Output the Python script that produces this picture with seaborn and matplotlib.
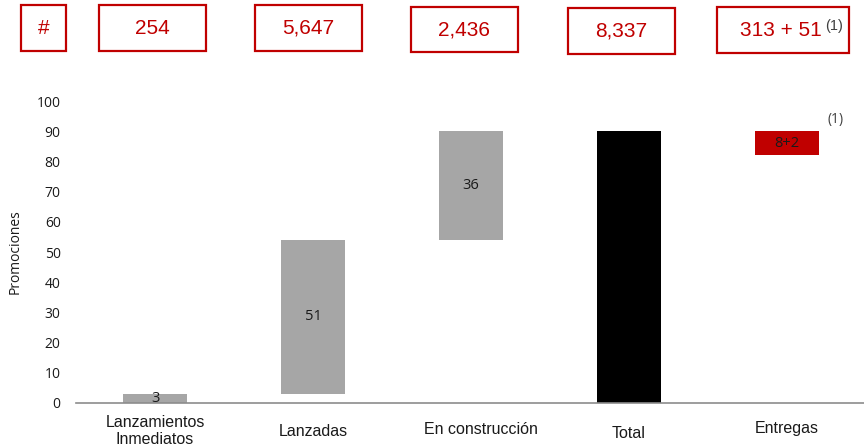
import matplotlib
matplotlib.use("Agg")

import numpy as np
import pandas as pd

import matplotlib.pyplot as plt
from matplotlib.patches import Rectangle
from matplotlib.transforms import blended_transform_factory
import seaborn as sns

##########################################################
# Data
##########################################################

categories = ["Lanzamientos\nInmediatos", "Lanzadas", "En construcción", "Total", "Entregas"]
bar_base = [0, 3, 54, 0, 82]
bar_height = [3, 51, 36, 90, 8]
bar_labels = ["3", "51", "36", "", "8+2"]
bar_colors = ["#A6A6A6", "#A6A6A6", "#A6A6A6", "#000000", "#C00000"]

header_labels = ["#", "254", "5,647", "2,436", "8,337", "313 + 51"]

y_ticks = [0, 10, 20, 30, 40, 50, 60, 70, 80, 90, 100]

df = pd.DataFrame({
    "categoria": categories,
    "base": bar_base,
    "valor": bar_height,
})

##########################################################
# Figure
##########################################################

sns.set_style("white")
plt.rcParams["font.family"] = ["Open Sans", "DejaVu Sans"]

fig = plt.figure(figsize=(8.64, 4.45), dpi=100)
ax = fig.add_axes([76 / 864, 1 - 403 / 445, 790 / 864, 302 / 445])

sns.barplot(
    data=df,
    x="categoria",
    y="valor",
    bottom=df["base"],
    width=0.405,
    color="#A6A6A6",
    saturation=1,
    ax=ax,
)

for patch, c in zip(ax.patches, bar_colors):
    patch.set_facecolor(c)
    patch.set_edgecolor("none")

for i, lab in enumerate(bar_labels):
    if lab:
        ax.text(i, bar_base[i] + bar_height[i] / 2, lab,
                ha="center", va="center", fontsize=10.5, color="#1a1a1a")

fig.text(828 / 864, 1 - 119 / 445, "(1)", ha="left", va="center",
         fontsize=10, color="#404040")

##########################################################
# Axes style
##########################################################

ax.set_xlim(-0.5, 4.5)
ax.set_ylim(0, 100)
ax.set_yticks(y_ticks)
ax.set_yticklabels([str(t) for t in y_ticks], fontsize=10, color="#1a1a1a")
ax.tick_params(axis="y", length=0, pad=11)
ax.tick_params(axis="x", length=0)
ax.set_xticklabels([])
ax.set_xlabel("")
ax.set_ylabel("Promociones", fontsize=10, color="#1a1a1a", labelpad=10)

for side in ["top", "right", "left"]:
    ax.spines[side].set_visible(False)
ax.spines["bottom"].set_color("#8C8C8C")
ax.spines["bottom"].set_linewidth(1.2)

# category labels sit at slightly different heights, as in the original slide
trans = blended_transform_factory(ax.transData, fig.transFigure)
label_y = [431, 432, 430, 433, 428]
label_dx = [0, 0, 0.06, 0, 0]
arial = ["Liberation Sans", "DejaVu Sans"]
for i, lab in enumerate(categories):
    ax.text(i + label_dx[i], 1 - label_y[i] / 445, lab, transform=trans,
            ha="center", va="center", fontsize=11.5, color="#1a1a1a",
            family=arial, linespacing=1.2)

##########################################################
# Header boxes
##########################################################

box_x0 = [21, 99, 255, 411, 568, 717]
box_x1 = [66, 206, 362, 518, 675, 849]
box_y0 = [5, 5, 5, 7, 8, 7]
box_y1 = [51, 51, 51, 52, 54, 53]

for lab, x0, x1, y0, y1 in zip(header_labels, box_x0, box_x1, box_y0, box_y1):
    rect = Rectangle((x0 / 864, 1 - y1 / 445), (x1 - x0) / 864, (y1 - y0) / 445,
                     transform=fig.transFigure, fill=False,
                     edgecolor="#C00000", linewidth=1.6)
    fig.patches.append(rect)
    cx = (x0 + x1) / 2 / 864
    cy = 1 - (y0 + y1) / 2 / 445
    if lab.startswith("313"):
        cx -= 2 / 864
    fig.text(cx, cy, lab, ha="center", va="center", fontsize=15,
             color="#C00000", family=arial)

fig.text(825 / 864, 1 - 26 / 445, "(1)", ha="left", va="center",
         fontsize=10.5, color="#404040", family=arial)

plt.savefig("out.png", dpi=100)
plt.close()
